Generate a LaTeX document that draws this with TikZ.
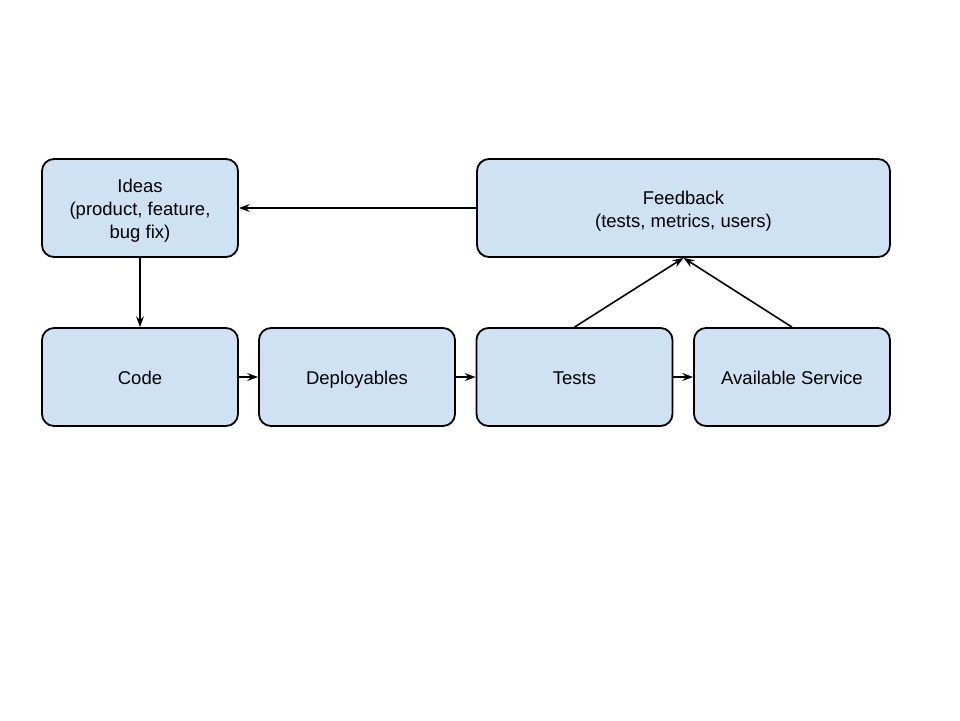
\documentclass[tikz,border=0pt]{standalone}
\usepackage{fontspec}
\setmainfont{Liberation Sans}
\usetikzlibrary{arrows.meta}
\begin{document}
\begin{tikzpicture}[x=1pt,y=-1pt,
  box/.style={draw=black,line width=1.8pt,fill=boxblue,rounded corners=12pt,
    minimum width=196pt,minimum height=98pt,align=center,inner sep=0pt,
    font=\fontsize{18.5}{23}\selectfont},
  onebox/.style={box,text height=19pt,text depth=4pt},
  conn/.style={line width=1.6pt,-{Stealth[length=11pt,width=8pt,inset=4pt]}}]
\definecolor{boxblue}{HTML}{CFE2F3}
\useasboundingbox (0,0) rectangle (960,720);
\node[box] (ideas) at (140,208) {\rule{0pt}{19pt}Ideas\\(product, feature,\\bug fix)};
\node[box,minimum width=413pt] (feedback) at (683.5,208) {\rule{0pt}{19pt}Feedback\\(tests, metrics, users)};
\node[onebox] (code) at (140,377) {Code};
\node[onebox] (deploy) at (357,377) {Deployables};
\node[onebox] (tests) at (574.5,377) {Tests};
\node[onebox] (avail) at (792,377) {Available Service};
\draw[conn] (feedback.west) -- (ideas.east);
\draw[conn] (ideas.south) -- (code.north);
\draw[conn] (code.east) -- (deploy.west);
\draw[conn] (deploy.east) -- (tests.west);
\draw[conn] (tests.east) -- (avail.west);
\draw[conn] (tests.north) -- (feedback.south);
\draw[conn] (avail.north) -- (feedback.south);
\end{tikzpicture}
\end{document}
